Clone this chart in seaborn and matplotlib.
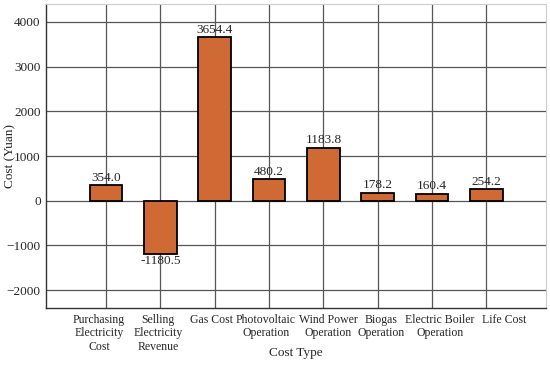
import pandas as pd
import matplotlib
matplotlib.use('Agg')
import matplotlib.pyplot as plt
import matplotlib.transforms as mtransforms
import seaborn as sns

# Cost items and their values (Yuan)
cost_types = ['Purchasing\nElectricity\nCost', 'Selling\nElectricity\nRevenue', 'Gas Cost',
              'Photovoltaic\nOperation', 'Wind Power\nOperation', 'Biogas\nOperation',
              'Electric Boiler\nOperation', 'Life Cost']
costs = [354.0, -1180.5, 3654.4, 480.2, 1183.8, 178.2, 160.4, 254.2]

df = pd.DataFrame({'Cost Type': cost_types, 'Cost': costs})

sns.set_style('white')
plt.rcParams['font.family'] = ['Liberation Serif', 'DejaVu Serif']
plt.rcParams['font.size'] = 9

fig = plt.figure(figsize=(5.5, 3.65), dpi=100)
ax = fig.add_axes([0.084, 0.156, 0.909, 0.833])

sns.barplot(data=df, x='Cost Type', y='Cost', color='#D06A35', saturation=1,
            width=0.6, edgecolor='black', linewidth=1.3, ax=ax, zorder=3)

# value labels: above positive bars, below negative ones
for i, v in enumerate(costs):
    if v >= 0:
        ax.text(i, v + 30, f'{v:.1f}', ha='center', va='bottom', fontsize=9.5, zorder=4)
    else:
        ax.text(i, v - 30, f'{v:.1f}', ha='center', va='top', fontsize=9.5, zorder=4)

ax.set_ylim(-2400, 4400)
ax.set_xlim(-1.1, 8.1)
ax.set_yticks([-2000, -1000, 0, 1000, 2000, 3000, 4000])
ax.grid(True, color='#555555', linewidth=0.9, zorder=0)
ax.set_axisbelow(True)
ax.tick_params(length=0, pad=4, labelsize=9.5)
ax.tick_params(axis='x', labelsize=8.5)
ax.set_xlabel('Cost Type', fontsize=9.5)
ax.set_ylabel('Cost (Yuan)', fontsize=9.5)
ax.yaxis.set_label_coords(-0.072, 0.5)
ax.xaxis.set_label_coords(0.5, -0.148)
ax.xaxis.label.set_va('center')
ax.yaxis.label.set_va('center')

# the category labels in the original sit spread a little wider than the bars
shifts_px = [-7, -2, -3, -3, 5, 3, 8, 18]
for lab, dx in zip(ax.get_xticklabels(), shifts_px):
    lab.set_transform(lab.get_transform() +
                      mtransforms.ScaledTranslation(dx / 100, 0, fig.dpi_scale_trans))

for side in ['top', 'right']:
    ax.spines[side].set_color('#cccccc')
for side in ['left', 'bottom']:
    ax.spines[side].set_color('#333333')
    ax.spines[side].set_linewidth(1.0)

fig.savefig('out.png', dpi=100)
